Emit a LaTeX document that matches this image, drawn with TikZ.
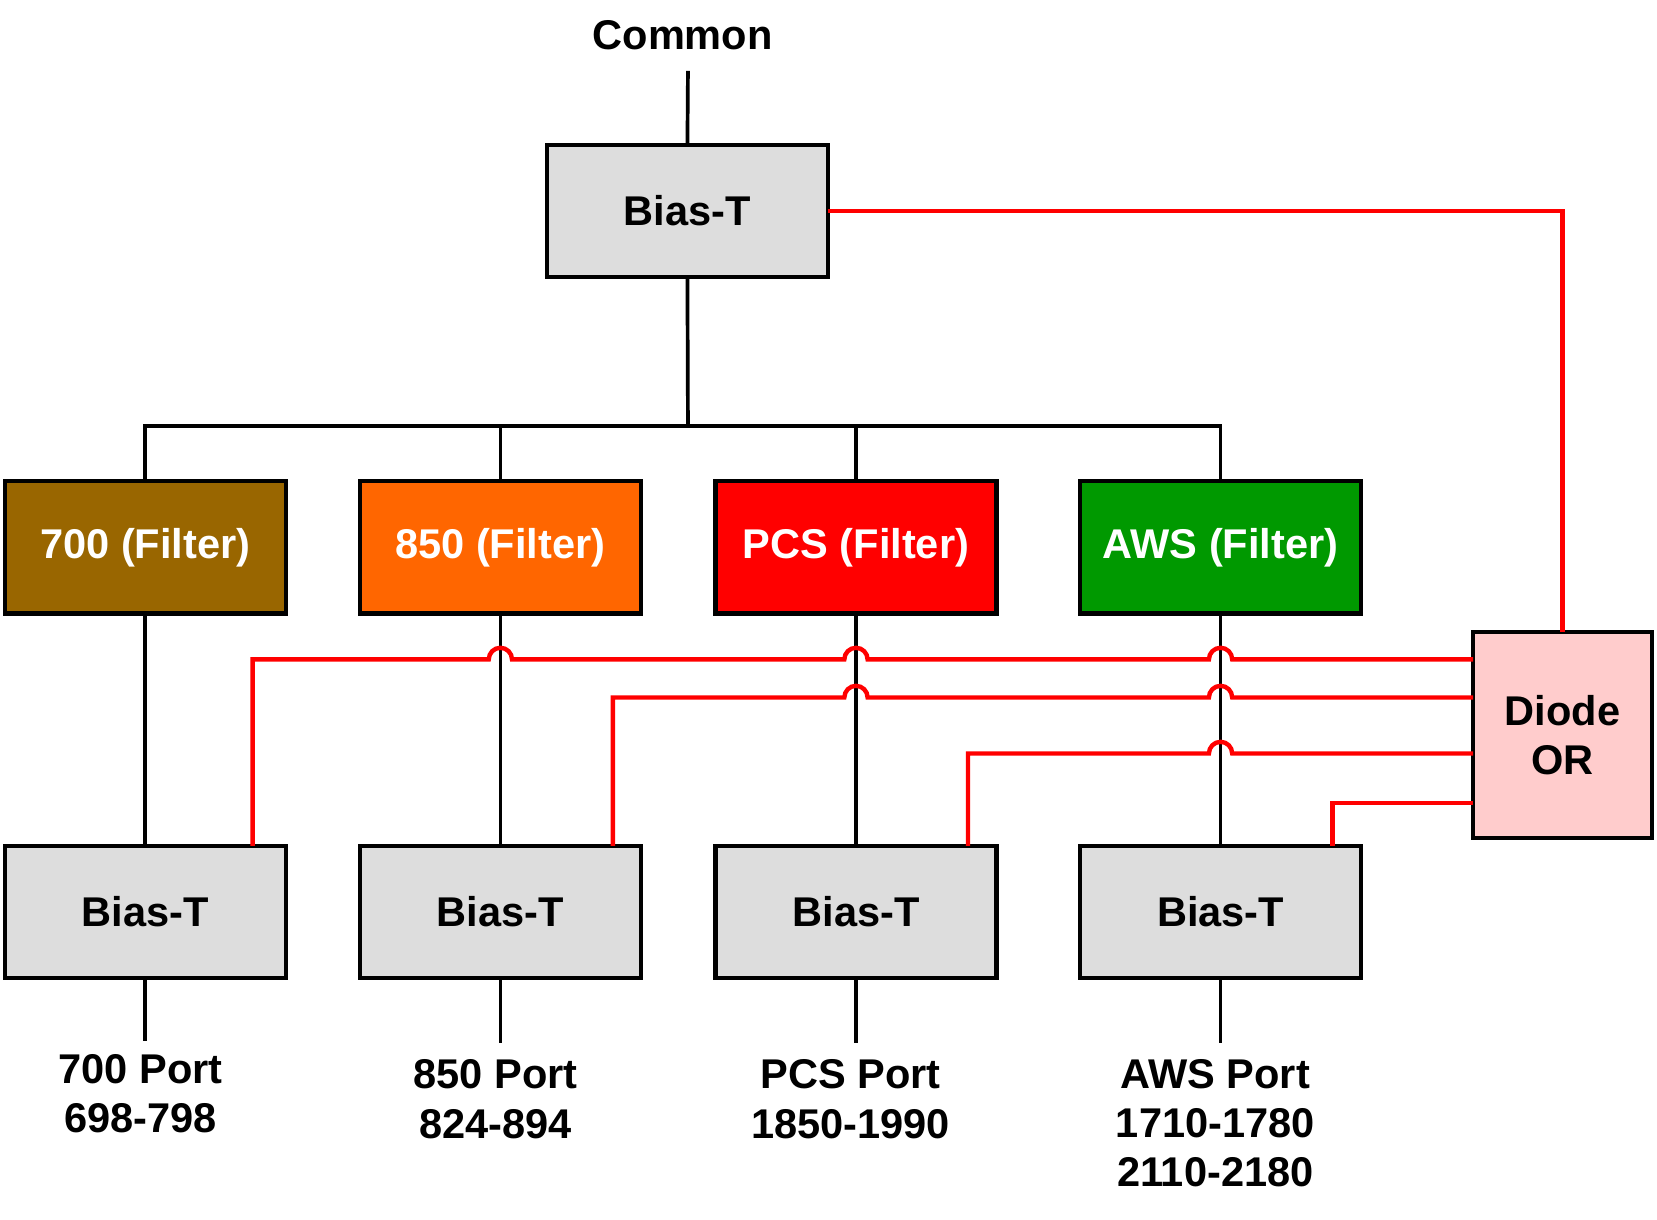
\documentclass[tikz,border=0pt]{standalone}
\usepackage{fontspec}
\setmainfont{Liberation Sans}
\usetikzlibrary{calc}
\definecolor{boxgrey}{HTML}{DDDDDD}
\definecolor{diodepink}{HTML}{FFCCCC}
\definecolor{fbrown}{HTML}{996600}
\definecolor{forange}{HTML}{FF6600}
\definecolor{fred}{HTML}{FF0000}
\definecolor{fgreen}{HTML}{009900}
\begin{document}
\begin{tikzpicture}[x=0.3pt,y=-0.3pt,
  txt/.style={font=\fontsize{11.8}{14}\selectfont\bfseries},
  box/.style={txt, draw=black, line width=1.2pt, minimum width=79.8pt, minimum height=37.5pt, inner sep=0pt, outer sep=0pt},
  greybox/.style={box, fill=boxgrey},
  filt/.style={box, text=white},
  wire/.style={draw=black, line width=1.05pt},
  rwire/.style={draw=red, line width=1.25pt},
  lbl/.style={txt, align=center, inner sep=0pt}]
\useasboundingbox (0,0) rectangle (1568,1154);
% nodes
\node[lbl] (common) at (646,33) {Common};
\node[greybox] (bt0) at (650.5,199.5) {Bias-T};
\node[filt, fill=fbrown] (f700) at (137.5,518) {700 (Filter)};
\node[filt, fill=forange] (f850) at (473.5,518) {850 (Filter)};
\node[filt, fill=fred] (fpcs) at (810,518) {PCS (Filter)};
\node[filt, fill=fgreen] (faws) at (1155,518) {AWS (Filter)};
\node[greybox] (b700) at (137.5,863) {Bias-T};
\node[greybox] (b850) at (473.5,863) {Bias-T};
\node[greybox] (bpcs) at (810,863) {Bias-T};
\node[greybox] (baws) at (1155,863) {Bias-T};
\node[box, fill=diodepink, minimum width=50.7pt, minimum height=58.5pt, align=center] (diode) at (1478.5,695.5) {Diode\\OR};
% port labels
\node[lbl] (l700) at (133,1035) {700 Port\\698-798};
\node[lbl] (l850) at (469,1040) {850 Port\\824-894};
\node[lbl] (lpcs) at (805,1040) {PCS Port\\1850-1990};
\node[lbl] (laws) at (1150,1063) {AWS Port\\1710-1780\\2110-2180};
% coordinates
\coordinate (ctop) at (651,67);
\coordinate (bus) at (651,403);
\coordinate (p700) at (137.5,985);
\coordinate (p850) at (473.5,987);
\coordinate (ppcs) at (810,987);
\coordinate (paws) at (1155,987);
\coordinate (d1) at ($(diode.north west)+(0,26)$);
\coordinate (d2) at ($(diode.north west)+(0,62)$);
\coordinate (d3) at ($(diode.north west)+(0,115)$);
\coordinate (d4) at ($(diode.north west)+(0,162)$);
\coordinate (s1) at ($(b700.north east)+(-31.5,0)$);
\coordinate (s2) at ($(b850.north east)+(-26.5,0)$);
\coordinate (s3) at ($(bpcs.north east)+(-27,0)$);
\coordinate (s4) at ($(baws.north east)+(-27,0)$);
% black wires
\draw[wire] (ctop) -- (bt0.north);
\draw[wire] (bt0.south) -- (bus);
\draw[wire] (f700.north) -- (f700.north |- bus) -- (faws.north |- bus) -- (faws.north);
\draw[wire] (f850.north) -- (f850.north |- bus);
\draw[wire] (fpcs.north) -- (fpcs.north |- bus);
\draw[wire] (f700.south) -- (b700.north);
\draw[wire] (f850.south) -- (b850.north);
\draw[wire] (fpcs.south) -- (bpcs.north);
\draw[wire] (faws.south) -- (baws.north);
\draw[wire] (b700.south) -- (p700);
\draw[wire] (b850.south) -- (p850);
\draw[wire] (bpcs.south) -- (ppcs);
\draw[wire] (baws.south) -- (paws);
% red wires
\draw[rwire] (bt0.east) -| (diode.north);
\draw[rwire] (s1) -- (s1 |- d1) -- ($(f850.south |- d1)+(-11,0)$)
  arc[start angle=180,end angle=0,radius=3.3pt] -- ($(fpcs.south |- d1)+(-11,0)$)
  arc[start angle=180,end angle=0,radius=3.3pt] -- ($(faws.south |- d1)+(-11,0)$)
  arc[start angle=180,end angle=0,radius=3.3pt] -- (d1);
\draw[rwire] (s2) -- (s2 |- d2) -- ($(fpcs.south |- d2)+(-11,0)$)
  arc[start angle=180,end angle=0,radius=3.3pt] -- ($(faws.south |- d2)+(-11,0)$)
  arc[start angle=180,end angle=0,radius=3.3pt] -- (d2);
\draw[rwire] (s3) -- (s3 |- d3) -- ($(faws.south |- d3)+(-11,0)$)
  arc[start angle=180,end angle=0,radius=3.3pt] -- (d3);
\draw[rwire] (s4) -- (s4 |- d4) -- (d4);
\end{tikzpicture}
\end{document}
